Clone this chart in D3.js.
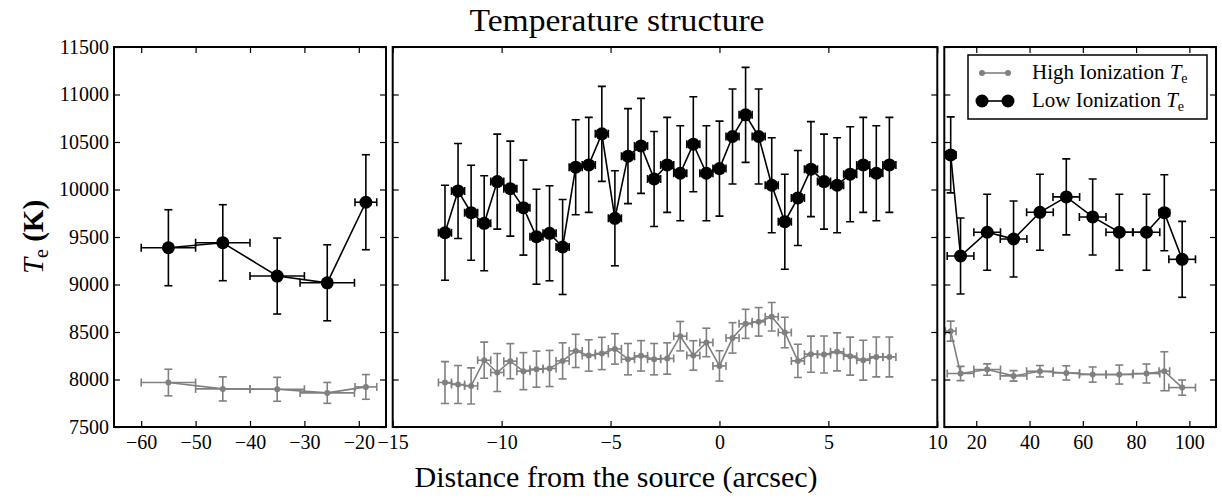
<!DOCTYPE html>
<html>
<head>
<meta charset="utf-8">
<script src="https://cdn.jsdelivr.net/npm/d3@7"></script>
<style>
  body { margin: 0; background: #fff; }
  svg { font-family: "Liberation Serif", serif; }
</style>
</head>
<body>
<script>
// ---- data ----
// left panel
var leftDist     = [-55, -45, -35, -25.8, -18.7];
var leftDistErr  = [5, 5, 5, 5, 2];
var leftHighT    = [7968, 7901, 7897, 7859, 7922];
var leftHighErr  = [140, 127, 126, 110, 130];
var leftLowT     = [9387, 9440, 9089, 9018, 9866];
var leftLowErr   = [400, 400, 400, 400, 500];

// middle panel
var midDist = [-12.6, -12.0, -11.4, -10.8, -10.2, -9.6, -9.0, -8.4, -7.8, -7.2,
               -6.6, -6.0, -5.4, -4.8, -4.2, -3.6, -3.0, -2.4, -1.8, -1.2,
               -0.6, 0.0, 0.6, 1.2, 1.8, 2.4, 3.0, 3.6, 4.2, 4.8,
               5.4, 6.0, 6.6, 7.2, 7.8];
var midDistErr = [0.3, 0.3, 0.3, 0.3, 0.3, 0.3, 0.3, 0.3, 0.3, 0.3,
                  0.3, 0.3, 0.3, 0.3, 0.3, 0.3, 0.3, 0.3, 0.3, 0.3,
                  0.3, 0.3, 0.3, 0.3, 0.3, 0.3, 0.3, 0.3, 0.3, 0.3,
                  0.3, 0.3, 0.3, 0.3, 0.3];
var midHighT = [7968, 7947, 7932, 8203, 8074, 8193, 8088, 8109, 8116, 8196,
                8301, 8253, 8274, 8322, 8214, 8249, 8214, 8221, 8456, 8253,
                8390, 8143, 8438, 8586, 8607, 8660, 8495, 8196, 8267, 8263,
                8291, 8246, 8203, 8238, 8238];
var midHighErr = [220, 200, 190, 190, 200, 185, 195, 190, 190, 190,
                  175, 165, 170, 160, 165, 160, 165, 165, 155, 155,
                  150, 160, 160, 153, 150, 150, 160, 175, 190, 195,
                  200, 200, 210, 210, 210];
var midLowT = [9545, 9985, 9756, 9644, 10083, 10009, 9809, 9503, 9539, 9395,
               10235, 10259, 10586, 9697, 10351, 10459, 10111, 10259, 10171, 10477,
               10171, 10220, 10558, 10786, 10558, 10045, 9661, 9911, 10214, 10083,
               10045, 10161, 10259, 10171, 10259];
var midLowErr = [500, 500, 500, 500, 500, 500, 500, 500, 500, 500,
                 500, 500, 500, 500, 500, 500, 500, 500, 500, 500,
                 500, 500, 500, 500, 500, 500, 500, 500, 500, 500,
                 500, 500, 500, 500, 500];

// right panel
var rightDist    = [10.4, 14.1, 24.1, 34.0, 43.9, 53.8, 63.7, 73.7, 83.9, 90.6, 97.3];
var rightDistErr = [2, 5, 5, 5, 5, 5, 5, 5, 5, 2, 5];
var rightHighT   = [8509, 8063, 8105, 8038, 8087, 8069, 8052, 8052, 8063, 8087, 7915];
var rightHighErr = [105, 75, 60, 55, 60, 75, 80, 100, 100, 205, 80];
var rightLowT    = [10364, 9300, 9550, 9479, 9760, 9922, 9711, 9550, 9550, 9756, 9265];
var rightLowErr  = [400, 400, 400, 400, 400, 400, 400, 400, 400, 400, 400];

var yTicks = [7500, 8000, 8500, 9000, 9500, 10000, 10500, 11000, 11500];
var leftTicks = [-60, -50, -40, -30, -20];
var midTicks = [-15, -10, -5, 0, 5, 10];
var rightTicks = [20, 40, 60, 80, 100];

// ---- layout ----
var W = 1222, H = 500;
var plotTop = 47, plotBottom = 427;

var svg = d3.select("body").append("svg")
    .attr("width", W)
    .attr("height", H);

var y = d3.scaleLinear().domain([7500, 11500]).range([plotBottom, plotTop]);

function pack(xs, xe, ys, ye) {
    return xs.map(function(d, i) { return {x: d, xe: xe[i], y: ys[i], ye: ye[i]}; });
}

var panels = [
    {x0: 114, x1: 386, domain: [-65, -15], ticks: leftTicks,
     high: pack(leftDist, leftDistErr, leftHighT, leftHighErr),
     low: pack(leftDist, leftDistErr, leftLowT, leftLowErr), labels: true},
    {x0: 392.7, x1: 937.3, domain: [-15, 10], ticks: midTicks,
     high: pack(midDist, midDistErr, midHighT, midHighErr),
     low: pack(midDist, midDistErr, midLowT, midLowErr), labels: false},
    {x0: 944.3, x1: 1216, domain: [8, 110], ticks: rightTicks,
     high: pack(rightDist, rightDistErr, rightHighT, rightHighErr),
     low: pack(rightDist, rightDistErr, rightLowT, rightLowErr), labels: false}
];

var fmt = function(d) { return d < 0 ? "\u2212" + Math.abs(d) : String(d); };

panels.forEach(function(p, pi) {
    var x = d3.scaleLinear().domain(p.domain).range([p.x0, p.x1]);
    var g = svg.append("g");

    var clipId = "clip" + pi;
    svg.append("clipPath").attr("id", clipId).append("rect")
        .attr("x", p.x0).attr("y", plotTop).attr("width", p.x1 - p.x0).attr("height", plotBottom - plotTop);
    var plot = g.append("g").attr("clip-path", "url(#" + clipId + ")");

    function series(data, color, r, lw) {
        var s = plot.append("g");
        // y error bars
        s.selectAll(".ye").data(data).enter().append("line")
            .attr("x1", d => x(d.x)).attr("x2", d => x(d.x))
            .attr("y1", d => y(d.y - d.ye)).attr("y2", d => y(d.y + d.ye))
            .attr("stroke", color).attr("stroke-width", lw);
        [-1, 1].forEach(function(sg) {
            s.selectAll(".yc").data(data).enter().append("line")
                .attr("x1", d => x(d.x) - 4).attr("x2", d => x(d.x) + 4)
                .attr("y1", d => y(d.y + sg * d.ye)).attr("y2", d => y(d.y + sg * d.ye))
                .attr("stroke", color).attr("stroke-width", lw);
            s.selectAll(".xc").data(data).enter().append("line")
                .attr("x1", d => x(d.x + sg * d.xe)).attr("x2", d => x(d.x + sg * d.xe))
                .attr("y1", d => y(d.y) - 4).attr("y2", d => y(d.y) + 4)
                .attr("stroke", color).attr("stroke-width", lw);
        });
        // x error bars
        s.selectAll(".xe").data(data).enter().append("line")
            .attr("x1", d => x(d.x - d.xe)).attr("x2", d => x(d.x + d.xe))
            .attr("y1", d => y(d.y)).attr("y2", d => y(d.y))
            .attr("stroke", color).attr("stroke-width", lw);
        // connecting line
        s.append("path").datum(data)
            .attr("d", d3.line().x(d => x(d.x)).y(d => y(d.y)))
            .attr("fill", "none").attr("stroke", color).attr("stroke-width", lw);
        s.selectAll("circle").data(data).enter().append("circle")
            .attr("cx", d => x(d.x)).attr("cy", d => y(d.y)).attr("r", r)
            .attr("fill", color);
    }
    series(p.high, "#808080", 3, 1.6);
    series(p.low, "#000000", 6.5, 1.6);

    // axes, ticks pointing inward
    var ax = g.append("g").attr("transform", "translate(0," + plotBottom + ")")
        .call(d3.axisBottom(x).tickValues(p.ticks).tickSizeInner(-6).tickSizeOuter(0)
              .tickPadding(8).tickFormat(fmt));
    var axTop = g.append("g").attr("transform", "translate(0," + plotTop + ")")
        .call(d3.axisTop(x).tickValues(p.ticks).tickSizeInner(-6).tickSizeOuter(0)
              .tickFormat(""));
    var ayL = g.append("g").attr("transform", "translate(" + p.x0 + ",0)")
        .call(d3.axisLeft(y).tickValues(yTicks).tickSizeInner(-6).tickSizeOuter(0)
              .tickPadding(5).tickFormat(p.labels ? d3.format("d") : ""));
    var ayR = g.append("g").attr("transform", "translate(" + p.x1 + ",0)")
        .call(d3.axisRight(y).tickValues(yTicks).tickSizeInner(-6).tickSizeOuter(0)
              .tickFormat(""));
    [ax, axTop, ayL, ayR].forEach(function(a) {
        a.select(".domain").remove();
        a.selectAll("line").attr("stroke", "#000").attr("stroke-width", 1.2);
        a.selectAll("text").attr("fill", "#000").style("font-size", "20px")
            .style("font-family", "Liberation Serif, serif");
    });

    g.append("rect")
        .attr("x", p.x0).attr("y", plotTop)
        .attr("width", p.x1 - p.x0).attr("height", plotBottom - plotTop)
        .attr("fill", "none").attr("stroke", "#000").attr("stroke-width", 2);
});

// titles
svg.append("text").attr("x", 617).attr("y", 31).attr("text-anchor", "middle")
    .attr("textLength", 295).attr("lengthAdjust", "spacingAndGlyphs")
    .style("font-size", "31px").text("Temperature structure");
svg.append("text").attr("x", 616).attr("y", 487).attr("text-anchor", "middle")
    .attr("textLength", 403).attr("lengthAdjust", "spacingAndGlyphs")
    .style("font-size", "30px").text("Distance from the source (arcsec)");

var yl = svg.append("text")
    .attr("transform", "translate(43,237) rotate(-90)")
    .attr("text-anchor", "middle")
    .style("font-size", "29px");
yl.append("tspan").style("font-style", "italic").text("T");
yl.append("tspan").attr("dy", 5).style("font-size", "20px").text("e");
yl.append("tspan").attr("dy", -5).style("font-weight", "bold").text(" (K)");

// legend
var lg = svg.append("g");
lg.append("rect").attr("x", 968).attr("y", 55).attr("width", 239).attr("height", 64)
    .attr("fill", "#fff").attr("stroke", "#000").attr("stroke-width", 1.5);
var legendItems = [
    {label: "High Ionization ", color: "#808080", r: 3, yy: 73},
    {label: "Low Ionization ", color: "#000", r: 6.5, yy: 101}
];
legendItems.forEach(function(it) {
    lg.append("line").attr("x1", 982).attr("x2", 1008).attr("y1", it.yy).attr("y2", it.yy)
        .attr("stroke", it.color).attr("stroke-width", 1.6);
    [982, 1008].forEach(function(cx) {
        lg.append("circle").attr("cx", cx).attr("cy", it.yy).attr("r", it.r).attr("fill", it.color);
    });
    var t = lg.append("text").attr("x", 1032).attr("y", it.yy + 6).style("font-size", "21px");
    t.append("tspan").text(it.label);
    t.append("tspan").style("font-style", "italic").text("T");
    t.append("tspan").attr("dy", 4).style("font-size", "14px").text("e");
});
</script>
</body>
</html>
